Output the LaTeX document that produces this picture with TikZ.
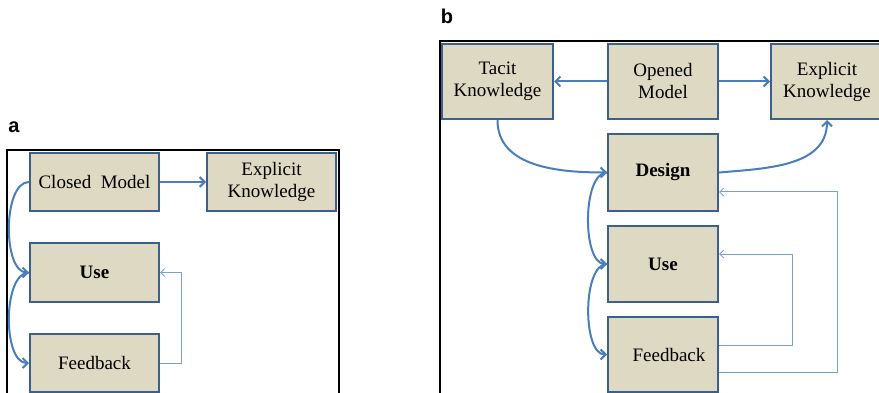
\documentclass[tikz,border=0pt]{standalone}
\usepackage{fontspec}
\setmainfont{Liberation Serif}
\newfontfamily\panelfont{Liberation Sans}
\usetikzlibrary{arrows.meta}

\definecolor{boxfill}{RGB}{221,217,195}
\definecolor{boxline}{RGB}{60,96,142}
\definecolor{flowblue}{RGB}{74,126,187}
\definecolor{loopblue}{RGB}{125,160,210}

\tikzset{every picture/.style={line width=0.75pt}}
\tikzset{
  block/.style={draw=boxline, fill=boxfill, line width=2pt, minimum width=129pt, minimum height=58pt,
    align=center, inner sep=0pt, font=\fontsize{19}{22}\selectfont},
  flow/.style={draw=flowblue, line width=2pt, -{Straight Barb[length=5pt,width=10pt]}},
  back/.style={draw=loopblue, line width=1pt, -{Straight Barb[length=4pt,width=8pt]}},
  frame/.style={draw=black, line width=2pt},
  panel/.style={font=\panelfont\bfseries\fontsize{20}{22}\selectfont, inner sep=0pt}
}

\begin{document}
\begin{tikzpicture}[x=1pt,y=1pt,yscale=-1,xscale=1]

	\clip (0,0) rectangle (879,393);
	\useasboundingbox (0,0) rectangle (879,393);

	% panel a
	\draw[frame] (7,400) |- (339,150) -- (339,400);
	\node[panel] (labelA) at (14,127) {a};

	\node[block] (closed) at (94.5,182) {Closed\ \ Model};
	\node[block] (explA) at (271.5,182) {Explicit\\Knowledge};
	\node[block, minimum height=59pt] (useA) at (94.5,272.5) {\bfseries Use};
	\node[block] (feedA) at (94.5,363) {Feedback};

	\draw[flow] (closed) -- (explA);
	\draw[flow] (closed.west) to[out=180, in=180, looseness=0.75] (useA.west);
	\draw[flow] (useA.west) to[out=180, in=180, looseness=0.75] (feedA.west);
	\draw[back] (feedA.east) -- ++(21,0) |- (useA.east);

	% panel b
	\draw[frame] (440,400) |- (900,41);
	\node[panel] (labelB) at (447,16) {b};

	\node[block, minimum width=111pt, minimum height=75pt] (tacit) at (497.5,81.5) {Tacit\\Knowledge};
	\node[block, minimum width=110pt, minimum height=75pt] (opened) at (663,81.5) {Opened\\Model};
	\node[block, minimum width=112pt, minimum height=75pt] (explB) at (827,81.5) {Explicit\\Knowledge};
	\node[block, minimum width=110pt, minimum height=77pt] (design) at (663,172.5) {\bfseries Design};
	\node[block, minimum width=110pt, minimum height=76pt] (useB) at (663,264) {\bfseries Use};
	\node[block, minimum width=110pt, minimum height=75pt] (feedB) at (663,354.5) {\hspace{12pt}Feedback};

	% y axis points down, so angles and shifts are mirrored
	\draw[flow] (opened) -- (tacit);
	\draw[flow] (opened) -- (explB);
	\draw[flow] (tacit.south) to[out=90, in=180] (design.west);
	\draw[flow] (design.east) to[out=-5, in=90] (explB.south);
	\draw[flow] (design.west) to[out=180, in=180, looseness=0.7] (useB.west);
	\draw[flow] (useB.west) to[out=180, in=180, looseness=0.7] (feedB.west);
	\draw[back] ([yshift=-9.5pt]feedB.east) -- ++(73,0) |- ([yshift=-10pt]useB.east);
	\draw[back] ([yshift=17.5pt]feedB.east) -- ++(118,0) |- ([yshift=19.5pt]design.east);

\end{tikzpicture}
\end{document}
